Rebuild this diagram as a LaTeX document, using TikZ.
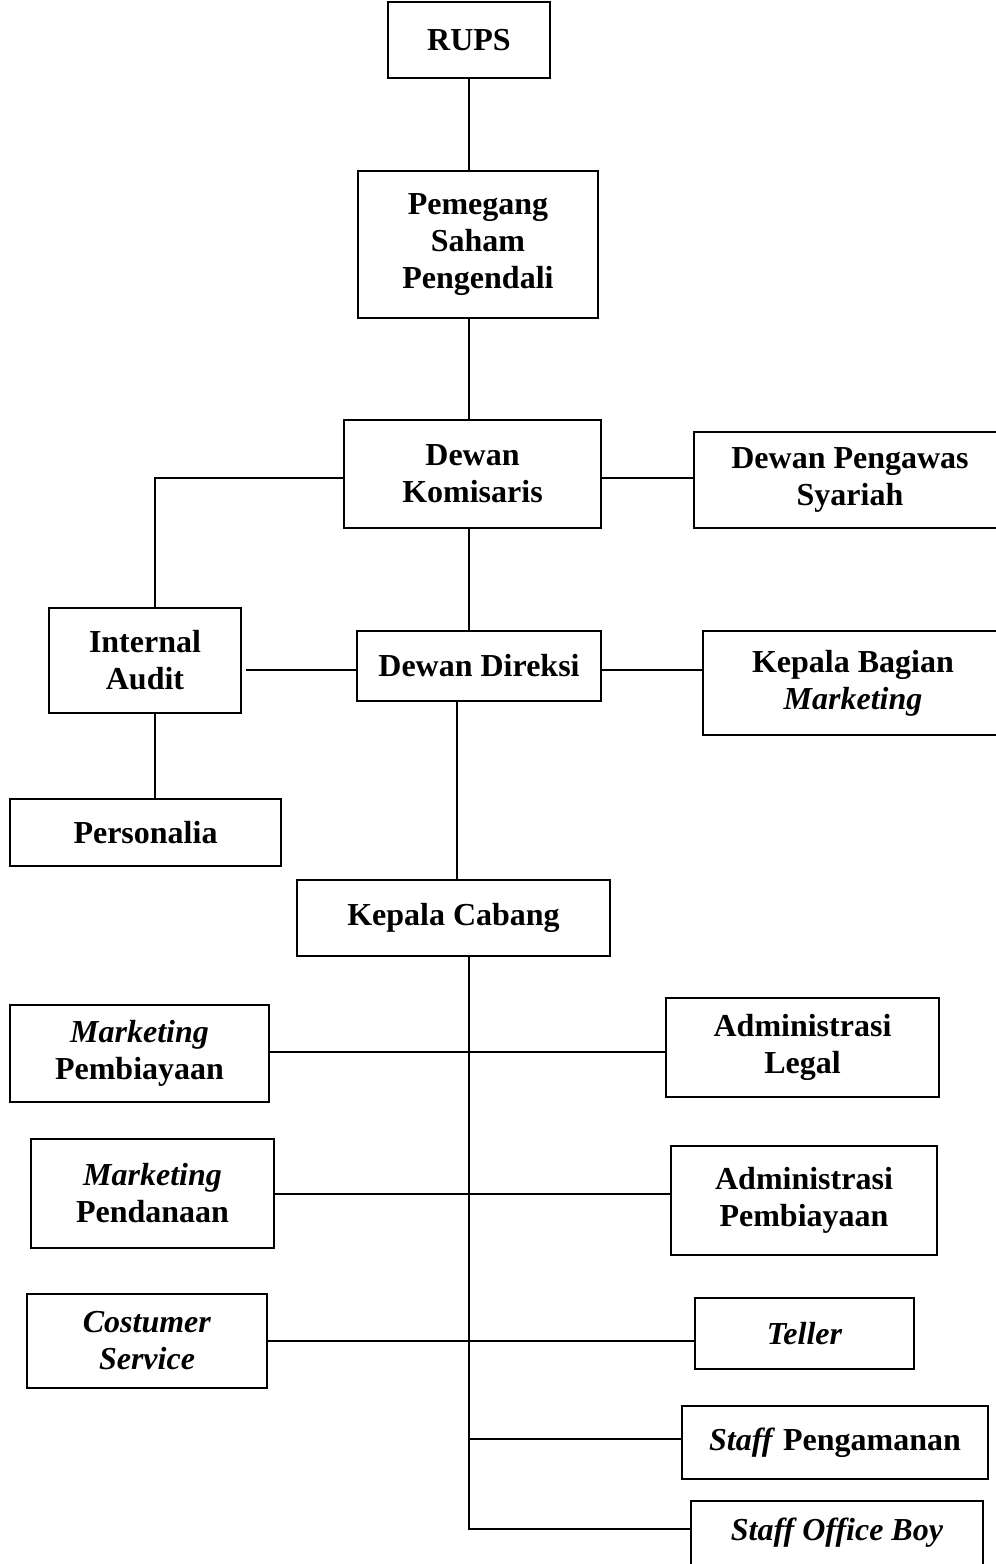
\documentclass[tikz,border=0pt]{standalone}
\usepackage{fontspec}
\setmainfont{Liberation Serif}

\tikzset{
  unit/.style={draw, line width=1pt, align=center, inner sep=0pt,
    font=\fontsize{16}{18.5}\selectfont\bfseries},
  link/.style={line width=1pt}
}

\begin{document}
\begin{tikzpicture}[x=0.5pt,y=-0.5pt]
  \useasboundingbox (0,0) rectangle (996,1564);
  \clip (0,0) rectangle (996,1564);

  % top of the chart
  \node[unit, minimum width=81pt, minimum height=38pt] (rups) at (469,40) {RUPS};
  \node[unit, minimum width=120pt, minimum height=73.5pt] (pem) at (478,244.5) {Pemegang\\Saham\\Pengendali};
  \node[unit, minimum width=128.5pt, minimum height=54pt] (kom) at (472.5,474) {Dewan\\Komisaris};
  \node[unit, minimum width=156pt, minimum height=48pt] (dps) at (850,480) {Dewan Pengawas\\Syariah};

  \node[unit, minimum width=96pt, minimum height=52.5pt] (audit) at (145,660.5) {Internal\\Audit};
  \node[unit, minimum width=122pt, minimum height=35pt] (dir) at (479,666) {Dewan Direksi};
  \node[unit, minimum width=150pt, minimum height=52pt] (kbm) at (853,683) {Kepala Bagian\\\textit{Marketing}};
  \node[unit, minimum width=135.5pt, minimum height=33.5pt] (pers) at (145.5,832.5) {Personalia};

  \node[unit, minimum width=156.5pt, minimum height=38pt] (cab) at (453.5,918) {Kepala Cabang};

  % branch office
  \node[unit, minimum width=129.5pt, minimum height=48.5pt] (mpb) at (139.5,1053.5) {\textit{Marketing}\\Pembiayaan};
  \node[unit, minimum width=136.5pt, minimum height=49.5pt] (alg) at (802.5,1047.5) {Administrasi\\Legal};
  \node[unit, minimum width=121.5pt, minimum height=54.5pt] (mpd) at (152.5,1193.5) {\textit{Marketing}\\Pendanaan};
  \node[unit, minimum width=133pt, minimum height=54.5pt] (apb) at (804,1200.5) {Administrasi\\Pembiayaan};
  \node[unit, minimum width=120pt, minimum height=47pt] (cs) at (147,1341) {\textit{Costumer}\\\textit{Service}};
  \node[unit, minimum width=109.5pt, minimum height=35.5pt] (tel) at (804.5,1333.5) {\textit{Teller}};
  \node[unit, minimum width=153pt, minimum height=36.5pt] (spg) at (835,1442.5) {\textit{Staff} Pengamanan};
  \node[unit, minimum width=146pt, minimum height=32pt] (sob) at (837,1533) {\textit{Staff Office Boy}};

  \coordinate (spine) at (469,0);
  \coordinate (trunk) at ([xshift=7.75pt]cab.south);

  \draw[link] (rups.south) -- (rups.south |- pem.north);
  \draw[link] (spine |- pem.south) -- (spine |- kom.north);
  \draw[link] (spine |- kom.south) -- (spine |- dir.north);
  \draw[link] ([yshift=-2pt]kom.east) -- ([yshift=-2pt]kom.east -| dps.west);
  \draw[link] ([yshift=-2pt]kom.west) -| ([xshift=5pt]audit.north);
  \draw[link] ([yshift=-2pt]dir.west) -- ([xshift=2pt,yshift=-2pt]dir.west -| audit.east);
  \draw[link] ([yshift=-2pt]dir.east) -- ([yshift=-2pt]dir.east -| kbm.west);
  \draw[link] ([xshift=5pt]audit.south) -- ([xshift=5pt]audit.south |- pers.north);
  \draw[link] ([xshift=1.5pt]cab.north) -- ([xshift=1.5pt]cab.north |- dir.south);

  \draw[link] (trunk) |- ([yshift=2pt]sob.west);
  \draw[link] ([yshift=1pt]mpb.east) -- ([yshift=1pt]mpb.east -| alg.west);
  \draw[link] (mpd.east) -- (mpd.east -| apb.west);
  \draw[link] (cs.east) -- (cs.east -| tel.west);
  \draw[link] ([yshift=2pt]spg.west -| trunk) -- ([yshift=2pt]spg.west);
\end{tikzpicture}
\end{document}
